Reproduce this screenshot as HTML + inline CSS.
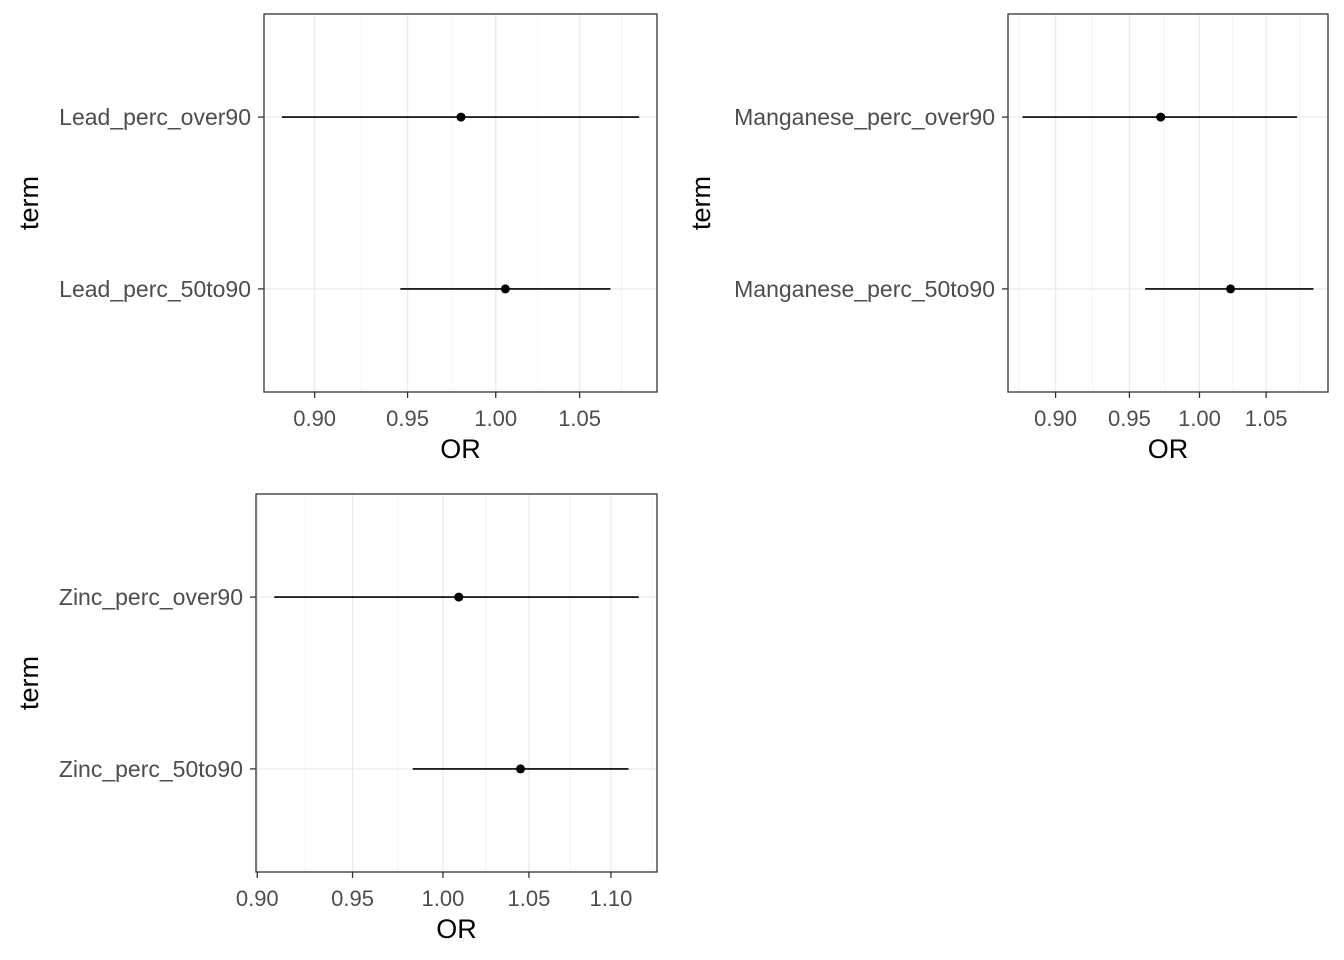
<!DOCTYPE html>
<html><head><meta charset="utf-8"><style>
body{margin:0;background:#fff;}
svg{font-family:"Liberation Sans",Arial,sans-serif;display:block}
</style></head><body>
<svg id="chart" width="1344" height="960" viewBox="0 0 1344 960"></svg>
<script>
const leadTerms = ["Lead_perc_over90","Lead_perc_50to90"];
const leadOR = [0.980, 1.0056];
const leadLow = [0.883, 0.946];
const leadHigh = [1.087, 1.069];
const leadTicks = [0.90, 0.95, 1.00, 1.05];

const mnTerms = ["Manganese_perc_over90","Manganese_perc_50to90"];
const mnOR = [0.972, 1.023];
const mnLow = [0.8785, 0.961];
const mnHigh = [1.074, 1.087];
const mnTicks = [0.90, 0.95, 1.00, 1.05];

const znTerms = ["Zinc_perc_over90","Zinc_perc_50to90"];
const znOR = [1.009, 1.045];
const znLow = [0.9087, 0.983];
const znHigh = [1.1175, 1.111];
const znTicks = [0.90, 0.95, 1.00, 1.05, 1.10];

const NS="http://www.w3.org/2000/svg";
const svg=document.getElementById('chart');
function mk(tag,attrs,parent){const e=document.createElementNS(NS,tag);for(const k in attrs)e.setAttribute(k,attrs[k]);(parent||svg).appendChild(e);return e;}

function panel(name,L,T,R,B,terms,or,lo,hi,ticks,termX){
  const g=mk('g',{});
  
  
  const lmin=Math.log(Math.min(...lo)),lmax=Math.log(Math.max(...hi));
  const pad=(lmax-lmin)*0.05;
  const d0=lmin-pad,d1=lmax+pad;
  const xs=v=>L+(Math.log(v)-d0)/(d1-d0)*(R-L);
  const n=terms.length;
  const ysc=i=>{const pos=n-i;return B-(pos-0.4)/(n-1+1.2)*(B-T);};
  const lt=ticks.map(Math.log);
  const minors=[];
  for(let i=0;i<lt.length-1;i++)minors.push((lt[i]+lt[i+1])/2);
  minors.push(lt[0]-(lt[1]-lt[0])/2);minors.push(lt[lt.length-1]+(lt[lt.length-1]-lt[lt.length-2])/2);
  minors.forEach(m=>{if(m>d0&&m<d1){const x=xs(Math.exp(m));const l=mk('line',{x1:x,x2:x,y1:T,y2:B,stroke:'#F2F2F2','stroke-width':0.8},g);
    
    }});
  ticks.forEach(t=>{const x=xs(t);if(x<L-0.5||x>R+0.5)return;
    const l=mk('line',{x1:x,x2:x,y1:T,y2:B,stroke:'#EBEBEB','stroke-width':1.3},g);
    
    
    mk('line',{x1:x,x2:x,y1:B,y2:B+6,stroke:'#333','stroke-width':1.3},g);
    const tx=mk('text',{x:x,y:B+34,'text-anchor':'middle','font-size':22,fill:'#4D4D4D'},g);
    tx.textContent=t.toFixed(2);
    
    
  });
  terms.forEach((tm,i)=>{const y=ysc(i);
    const gl=mk('line',{x1:L,x2:R,y1:y,y2:y,stroke:'#EBEBEB','stroke-width':1.3},g);
    
    
    mk('line',{x1:L-6,x2:L,y1:y,y2:y,stroke:'#333','stroke-width':1.3},g);
    const tx=mk('text',{x:L-13,y:y+8,'text-anchor':'end','font-size':23,fill:'#4D4D4D'},g);
    tx.textContent=tm;
    
    
  });
  terms.forEach((tm,i)=>{const y=ysc(i);
    const ln=mk('line',{x1:xs(lo[i]),x2:xs(hi[i]),y1:y,y2:y,stroke:'#000','stroke-width':1.6},g);
    
    
    const c=mk('circle',{cx:xs(or[i]),cy:y,r:4.5,fill:'#000'},g);
    
    
  });
  const fr=mk('rect',{x:L,y:T,width:R-L,height:B-T,fill:'none',stroke:'#333','stroke-width':1.3},g);
  
  
  const xt=mk('text',{x:(L+R)/2,y:B+66,'text-anchor':'middle','font-size':27,fill:'#000'},g);
  xt.textContent='OR';
  
  
  const yc=(T+B)/2;
  const yt=mk('text',{x:termX,y:yc,'text-anchor':'middle','font-size':27,fill:'#000',transform:`rotate(-90 ${termX} ${yc})`},g);
  yt.textContent='term';
  
  
}
panel('lead',264,14,657,392,leadTerms,leadOR,leadLow,leadHigh,leadTicks,38);
panel('manganese',1008,14,1328,392,mnTerms,mnOR,mnLow,mnHigh,mnTicks,710);
panel('zinc',256,494,657,872,znTerms,znOR,znLow,znHigh,znTicks,38);
</script>
</body></html>
